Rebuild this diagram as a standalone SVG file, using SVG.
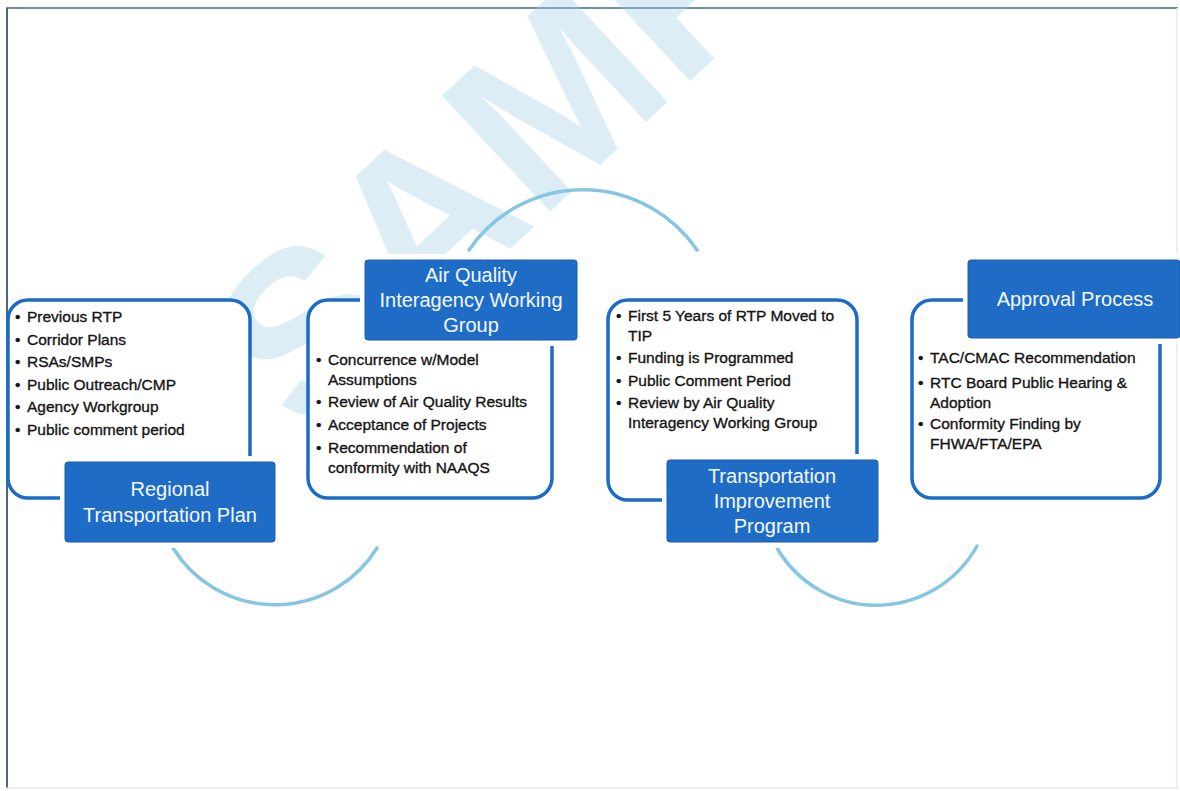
<svg xmlns="http://www.w3.org/2000/svg" width="1180" height="791" viewBox="0 0 1180 791">
<defs>
<style>
.box{fill:#ffffff;stroke:#1a6cc6;stroke-width:3.5}
.gap{fill:#ffffff}
.title{fill:#1f6cc6;stroke:#1a5caf;stroke-width:1}
.tt{font-family:"Liberation Sans",Arial,sans-serif;font-size:20px;fill:#f4f8ff;text-anchor:middle}
.bt{font-family:"Liberation Sans",Arial,sans-serif;font-size:15.5px;fill:#151515;stroke:#151515;stroke-width:0.35}
.arc{fill:none;stroke:#86c6e2;stroke-width:3.5;stroke-linecap:round}
.wm{font-family:"Liberation Sans",Arial,sans-serif;font-weight:bold;font-size:230px;fill:#9fd0e4;opacity:0.36}
</style>
</defs>
<rect x="0" y="0" width="1180" height="791" fill="#ffffff"/>
<g id="frame">
<line x1="6" y1="8" x2="1178" y2="8" stroke="#6f8fb5" stroke-width="2"/>
<line x1="7" y1="8" x2="7" y2="789" stroke="#4d6778" stroke-width="2"/>
<line x1="1177" y1="8" x2="1177" y2="789" stroke="#e4ecef" stroke-width="1.5"/>
<line x1="6" y1="788" x2="1178" y2="788" stroke="#e6ebee" stroke-width="1.5"/>
</g>
<g id="watermark">
<text class="wm" transform="translate(305,440) rotate(-43)">SAMPLE</text>
</g>
<g id="connectors">
<path class="arc" d="M173,548 A120,120 0 0 0 377,548"/>
<path class="arc" d="M469,250 A138,138 0 0 1 697,250"/>
<path class="arc" d="M777,548 A115,115 0 0 0 977,546"/>
</g>
<g id="node-rtp">
<rect class="box" x="8" y="300" width="242" height="198" rx="20"/>
<rect class="gap" x="60" y="456" width="220" height="92"/>
<rect class="title" x="65" y="462" width="210" height="80" rx="3"/>
<text class="tt"><tspan x="170" y="496">Regional</tspan><tspan x="170" y="522">Transportation Plan</tspan></text>
<text class="bt"><tspan x="15" y="322">•</tspan><tspan x="27" y="322">Previous RTP</tspan></text>
<text class="bt"><tspan x="15" y="345">•</tspan><tspan x="27" y="345">Corridor Plans</tspan></text>
<text class="bt"><tspan x="15" y="367">•</tspan><tspan x="27" y="367">RSAs/SMPs</tspan></text>
<text class="bt"><tspan x="15" y="390">•</tspan><tspan x="27" y="390">Public Outreach/CMP</tspan></text>
<text class="bt"><tspan x="15" y="412">•</tspan><tspan x="27" y="412">Agency Workgroup</tspan></text>
<text class="bt"><tspan x="15" y="435">•</tspan><tspan x="27" y="435">Public comment period</tspan></text>
</g>
<g id="node-aqiwg">
<rect class="box" x="308" y="300" width="244" height="198" rx="20"/>
<rect class="gap" x="360" y="254" width="222" height="92"/>
<rect class="title" x="365" y="260" width="212" height="80" rx="3"/>
<text class="tt"><tspan x="471" y="282">Air Quality</tspan><tspan x="471" y="307">Interagency Working</tspan><tspan x="471" y="332">Group</tspan></text>
<text class="bt"><tspan x="316" y="365">•</tspan><tspan x="328" y="365">Concurrence w/Model</tspan></text>
<text class="bt"><tspan x="328" y="385">Assumptions</tspan></text>
<text class="bt"><tspan x="316" y="407">•</tspan><tspan x="328" y="407">Review of Air Quality Results</tspan></text>
<text class="bt"><tspan x="316" y="430">•</tspan><tspan x="328" y="430">Acceptance of Projects</tspan></text>
<text class="bt"><tspan x="316" y="453">•</tspan><tspan x="328" y="453">Recommendation of</tspan></text>
<text class="bt"><tspan x="328" y="473">conformity with NAAQS</tspan></text>
</g>
<g id="node-tip">
<rect class="box" x="608" y="300" width="249" height="200" rx="20"/>
<rect class="gap" x="662" y="454" width="221" height="94"/>
<rect class="title" x="667" y="460" width="211" height="82" rx="3"/>
<text class="tt"><tspan x="772" y="483">Transportation</tspan><tspan x="772" y="508">Improvement</tspan><tspan x="772" y="533">Program</tspan></text>
<text class="bt"><tspan x="616" y="321">•</tspan><tspan x="628" y="321">First 5 Years of RTP Moved to</tspan></text>
<text class="bt"><tspan x="628" y="341">TIP</tspan></text>
<text class="bt"><tspan x="616" y="363">•</tspan><tspan x="628" y="363">Funding is Programmed</tspan></text>
<text class="bt"><tspan x="616" y="386">•</tspan><tspan x="628" y="386">Public Comment Period</tspan></text>
<text class="bt"><tspan x="616" y="408">•</tspan><tspan x="628" y="408">Review by Air Quality</tspan></text>
<text class="bt"><tspan x="628" y="428">Interagency Working Group</tspan></text>
</g>
<g id="node-approval">
<rect class="box" x="912" y="300" width="248" height="198" rx="20"/>
<rect class="gap" x="963" y="254" width="217" height="90"/>
<rect class="title" x="968" y="260" width="212" height="78" rx="3"/>
<text class="tt"><tspan x="1075" y="306">Approval Process</tspan></text>
<text class="bt"><tspan x="918" y="363">•</tspan><tspan x="930" y="363">TAC/CMAC Recommendation</tspan></text>
<text class="bt"><tspan x="918" y="388">•</tspan><tspan x="930" y="388">RTC Board Public Hearing &amp;</tspan></text>
<text class="bt"><tspan x="930" y="408">Adoption</tspan></text>
<text class="bt"><tspan x="918" y="429">•</tspan><tspan x="930" y="429">Conformity Finding by</tspan></text>
<text class="bt"><tspan x="930" y="449">FHWA/FTA/EPA</tspan></text>
</g>
</svg>
